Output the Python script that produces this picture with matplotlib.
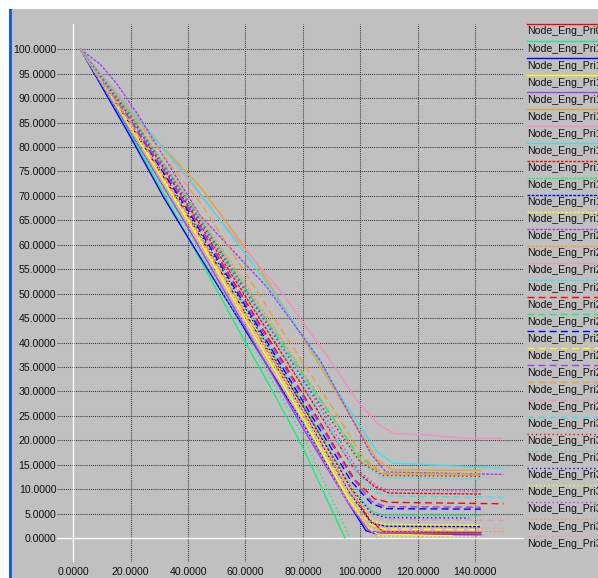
import matplotlib
matplotlib.use("Agg")
import matplotlib.pyplot as plt
from matplotlib.lines import Line2D
from matplotlib.patches import Rectangle
from matplotlib.ticker import FormatStrFormatter

# ---- series: node energy (%) versus time ----
names = ["Node_Eng_Pri0", "Node_Eng_Pri1", "Node_Eng_Pri10", "Node_Eng_Pri11",
         "Node_Eng_Pri12", "Node_Eng_Pri13", "Node_Eng_Pri14", "Node_Eng_Pri15",
         "Node_Eng_Pri16", "Node_Eng_Pri17", "Node_Eng_Pri18", "Node_Eng_Pri19",
         "Node_Eng_Pri2", "Node_Eng_Pri20", "Node_Eng_Pri21", "Node_Eng_Pri22",
         "Node_Eng_Pri23", "Node_Eng_Pri24", "Node_Eng_Pri25", "Node_Eng_Pri26",
         "Node_Eng_Pri27", "Node_Eng_Pri28", "Node_Eng_Pri29", "Node_Eng_Pri3",
         "Node_Eng_Pri30", "Node_Eng_Pri31", "Node_Eng_Pri32", "Node_Eng_Pri33",
         "Node_Eng_Pri34", "Node_Eng_Pri35", "Node_Eng_Pri36"]

pri0_x = [2.5, 20, 40, 60, 80, 96, 103, 108, 142]
pri0_y = [100, 84.5, 66, 46, 27, 11, 4, 1.3, 1.1]
pri1_x = [2.5, 20, 40, 60, 70, 80, 94.7]
pri1_y = [100, 82.5, 61.5, 40, 29.5, 18.5, 0]
pri10_x = [2.5, 20, 31.4, 38.4, 60, 80, 95, 102, 106, 142]
pri10_y = [100, 82, 69.8, 63, 42.5, 23.5, 8, 1.5, 0.8, 0.7]
pri11_x = [2.5, 20, 40, 60, 80, 95, 102, 106, 132]
pri11_y = [100, 84, 65, 44.5, 24.5, 9, 2.5, 0.8, 0.5]
pri12_x = [2.5, 20, 40, 60, 80, 96, 103, 108, 142]
pri12_y = [100, 83, 63.5, 43, 22.5, 7, 1.5, 1.0, 0.8]
pri13_x = [2.5, 20, 44.2, 63.9, 80, 91.8, 105.9, 111, 142]
pri13_y = [100, 87, 71.9, 56.2, 41, 29.6, 16, 14, 13.8]
pri14_x = [2.5, 20, 52, 72, 89.5, 98.8, 105.8, 111.6, 123, 137, 149.3]
pri14_y = [100, 88, 64.5, 50.7, 36.4, 28.2, 23.5, 21.4, 21.1, 20.4, 20.4]
pri15_x = [2.5, 20, 40.7, 68.5, 87.1, 89.5, 105.8, 111.5, 123, 149.7]
pri15_y = [100, 87.5, 73.3, 51.4, 35, 32.3, 17.7, 15.3, 15.0, 14.3]
pri16_x = [2.5, 20, 40, 60, 80, 98, 105, 110, 142]
pri16_y = [100, 86, 68, 49.5, 31, 14, 10.5, 9.2, 9]
pri17_x = [2.5, 20, 40, 60, 80, 97, 104, 108, 142]
pri17_y = [100, 85, 66.5, 47, 27.5, 10, 5.5, 4.7, 4.6]
pri18_x = [2.5, 20, 40, 60, 80, 96, 104, 109, 142]
pri18_y = [100, 84.5, 66, 46, 26, 9.5, 3, 2.4, 2.3]
pri19_x = [2.5, 20, 40, 60, 80, 97, 104, 109, 142]
pri19_y = [100, 85, 66.5, 46.5, 26.5, 10, 3.5, 2.8, 2.6]
pri2_x = [2.5, 9.3, 15.1, 22.1, 44.2, 67.4, 86, 104, 109, 150]
pri2_y = [100, 97, 93, 87, 66, 51.4, 36.4, 17, 13.5, 13]
pri20_x = [2.5, 20, 40, 60, 80, 100, 108, 142]
pri20_y = [100, 86.5, 69.5, 52, 34, 16, 13, 12.8]
pri21_x = [2.5, 20, 40, 60, 80, 95, 101, 105.8]
pri21_y = [100, 83.5, 64, 44, 23.5, 8, 3.5, 0]
pri22_x = [2.5, 20, 40, 60, 80, 100, 108, 142]
pri22_y = [100, 86, 69, 51, 33, 15.5, 12.3, 12.1]
pri23_x = [2.5, 20, 40, 60, 80, 98, 105, 110, 150]
pri23_y = [100, 85.5, 67.5, 48.5, 29.5, 12, 8, 7.3, 7.0]
pri24_x = [2.5, 20, 40, 60, 80, 100, 108, 142]
pri24_y = [100, 86.5, 69, 51, 33.5, 16.5, 13.3, 13.1]
pri25_x = [2.5, 20, 40, 60, 80, 97, 104, 109, 142]
pri25_y = [100, 85, 67, 47.5, 28, 11.5, 7, 6, 5.9]
pri26_x = [2.5, 20, 40, 60, 80, 96, 103, 108, 142]
pri26_y = [100, 84.5, 65.5, 45.5, 25.5, 9, 3, 1.8, 1.7]
pri27_x = [2.5, 20, 40, 60, 80, 97, 104, 109, 142]
pri27_y = [100, 85.5, 67.5, 48, 29, 12.5, 7.5, 6.4, 6.3]
pri28_x = [2.5, 20, 45, 70, 90, 101, 108, 142]
pri28_y = [100, 87, 68, 45, 27, 16.5, 13.2, 13]
pri29_x = [2.5, 20, 40, 60, 80, 96, 103, 108, 150]
pri29_y = [100, 85, 66, 46, 26.5, 10, 5, 3.8, 3.6]
pri3_x = [2.5, 20, 40, 60, 80, 98, 105, 110, 150]
pri3_y = [100, 86, 68.5, 50, 31.5, 14, 9.5, 8.6, 8.3]
pri30_x = [2.5, 20, 40, 60, 80, 100, 108, 142]
pri30_y = [100, 86, 68.5, 50.5, 32.5, 15.5, 12.8, 12.6]
pri31_x = [2.5, 20, 40, 60, 80, 96.5]
pri31_y = [100, 83, 63, 42, 21, 0]
pri32_x = [2.5, 20, 40, 60, 80, 97, 104, 109, 138]
pri32_y = [100, 85, 66.5, 47, 27, 10, 5, 4.2, 4.1]
pri33_x = [2.5, 20, 40, 60, 80, 96, 103, 107, 142]
pri33_y = [100, 84.5, 65.5, 45.5, 25.5, 9, 2, 0.4, 0.3]
pri34_x = [2.5, 20, 40, 60, 80, 99, 106, 110, 142]
pri34_y = [100, 86.5, 69, 51, 32.5, 14, 10.5, 9.8, 9.6]
pri35_x = [2.5, 20, 40, 60, 80, 96, 103, 108, 150]
pri35_y = [100, 84.5, 65.5, 45.5, 25.5, 9, 2.5, 1.4, 1.3]
pri36_x = [2.5, 20, 40, 60, 80, 96, 103, 108, 150]
pri36_y = [100, 85, 66, 46, 26, 9.5, 3.5, 2.2, 2.0]

series_x = [pri0_x, pri1_x, pri10_x, pri11_x, pri12_x, pri13_x, pri14_x, pri15_x,
            pri16_x, pri17_x, pri18_x, pri19_x, pri2_x, pri20_x, pri21_x, pri22_x,
            pri23_x, pri24_x, pri25_x, pri26_x, pri27_x, pri28_x, pri29_x, pri3_x,
            pri30_x, pri31_x, pri32_x, pri33_x, pri34_x, pri35_x, pri36_x]
series_y = [pri0_y, pri1_y, pri10_y, pri11_y, pri12_y, pri13_y, pri14_y, pri15_y,
            pri16_y, pri17_y, pri18_y, pri19_y, pri2_y, pri20_y, pri21_y, pri22_y,
            pri23_y, pri24_y, pri25_y, pri26_y, pri27_y, pri28_y, pri29_y, pri3_y,
            pri30_y, pri31_y, pri32_y, pri33_y, pri34_y, pri35_y, pri36_y]

x_ticks = [0, 20, 40, 60, 80, 100, 120, 140]
y_ticks = [0, 5, 10, 15, 20, 25, 30, 35, 40, 45, 50, 55, 60, 65, 70, 75, 80, 85, 90, 95, 100]

# ---- styling ----
palette = ["#ff0000", "#10f080", "#0000ff", "#ffff00",
           "#a040f0", "#f0a030", "#f090c0", "#40e0e0"]
styles = ["-", (0, (2, 1)), (0, (5, 3)), (0, (1, 2))]
BG = "#c0c0c0"
W, H = 598, 578

fig = plt.figure(figsize=(W / 100, H / 100), dpi=100, facecolor=BG)
plt.rcParams["font.family"] = ["Liberation Sans", "DejaVu Sans"]

# window frame: white margin and blue bar
fig.patches.append(Rectangle((0, 1 - 9 / H), 1, 9 / H, transform=fig.transFigure,
                             facecolor="white", edgecolor="none", zorder=0))
fig.patches.append(Rectangle((0, 0), 9 / W, 1, transform=fig.transFigure,
                             facecolor="white", edgecolor="none", zorder=0))
fig.patches.append(Rectangle((9 / W, 0), 3 / W, 1 - 9 / H, transform=fig.transFigure,
                             facecolor="#1a5ce0", edgecolor="none", zorder=1))

ax = fig.add_axes([57 / W, (H - 562) / H, 467 / W, 538 / H], facecolor=BG)
for s in ax.spines.values():
    s.set_visible(False)

ax.set_xlim(-5.68, 157.1)
ax.set_ylim(-4.91, 105.18)
ax.set_xticks(x_ticks)
ax.set_yticks(y_ticks)
ax.xaxis.set_major_formatter(FormatStrFormatter("%.4f"))
ax.yaxis.set_major_formatter(FormatStrFormatter("%.4f"))
ax.tick_params(axis="both", length=0, labelsize=7.6, colors="#101010")
ax.tick_params(axis="x", pad=3.5)
ax.tick_params(axis="y", pad=0.5)

ax.grid(True, color="#3a3a3a", linestyle=(0, (1, 1)), linewidth=0.75, zorder=1)
ax.set_axisbelow(True)
ax.axvline(0, color="white", linewidth=1.0, zorder=2)
ax.axhline(0, color="white", linewidth=1.0, zorder=2)

for i, (xs, ys) in enumerate(zip(series_x, series_y)):
    ax.plot(xs, ys, color=palette[i % 8], linestyle=styles[i // 8],
            linewidth=1.0, zorder=3)

# legend column at the right edge: line above each name
for i, name in enumerate(names):
    py = 24 + 17.07 * i
    fy = 1 - py / H
    fig.add_artist(Line2D([527 / W, 1.02], [fy, fy], transform=fig.transFigure,
                          color=palette[i % 8], linestyle=styles[i // 8],
                          linewidth=1.0))
    fig.text(527 / W, 1 - (py + 7.5) / H, name, ha="left", va="center",
             fontsize=7.6, color="#101010")

fig.savefig("out.png", dpi=100, facecolor=BG)
